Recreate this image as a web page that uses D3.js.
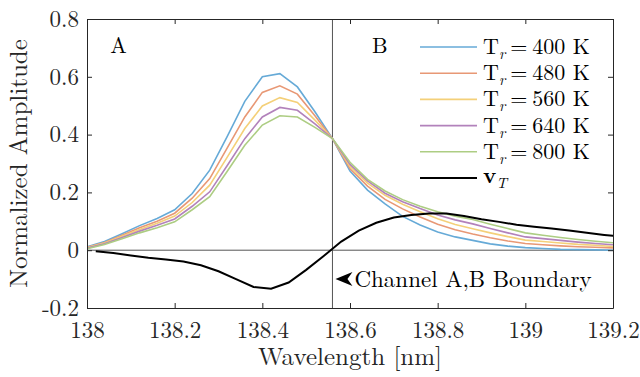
<!DOCTYPE html>
<html>
<head>
<meta charset="utf-8">
<title>Normalized Amplitude</title>
<style>
	body { margin: 0; background: #fff; }
	.axis path, .axis line { stroke: #262626; stroke-width: 1; }
</style>
</head>
<body>
<script src="https://d3js.org/d3.v7.min.js"></script>
<script>

var FONT = "'Latin Modern Roman', 'Liberation Serif', serif";

// wavelength samples of the spectra
var wl = [138.00, 138.04, 138.08, 138.12, 138.16, 138.20, 138.24, 138.28, 138.32, 138.36,
	138.40, 138.44, 138.48, 138.52, 138.56, 138.60, 138.64, 138.68, 138.72, 138.76,
	138.80, 138.84, 138.88, 138.92, 138.96, 139.00, 139.04, 139.08, 139.12, 139.16, 139.20];

var tr400 = [0.012, 0.030, 0.057, 0.085, 0.110, 0.140, 0.196, 0.277, 0.394, 0.515,
	0.600, 0.611, 0.565, 0.479, 0.386, 0.274, 0.208, 0.160, 0.117, 0.087,
	0.063, 0.046, 0.034, 0.022, 0.014, 0.009, 0.006, 0.003, 0.002, 0.001, 0.000];
var tr480 = [0.010, 0.027, 0.052, 0.078, 0.100, 0.128, 0.180, 0.248, 0.354, 0.461,
	0.546, 0.569, 0.540, 0.465, 0.386, 0.282, 0.222, 0.176, 0.143, 0.115,
	0.090, 0.071, 0.056, 0.043, 0.032, 0.023, 0.019, 0.015, 0.012, 0.010, 0.008];
var tr560 = [0.009, 0.025, 0.048, 0.072, 0.093, 0.118, 0.165, 0.225, 0.322, 0.421,
	0.499, 0.528, 0.511, 0.450, 0.386, 0.290, 0.232, 0.190, 0.159, 0.133,
	0.109, 0.089, 0.074, 0.060, 0.047, 0.035, 0.030, 0.025, 0.020, 0.017, 0.013];
var tr640 = [0.007, 0.022, 0.044, 0.066, 0.086, 0.108, 0.152, 0.202, 0.293, 0.386,
	0.461, 0.494, 0.484, 0.437, 0.386, 0.297, 0.240, 0.197, 0.168, 0.144,
	0.122, 0.105, 0.091, 0.075, 0.060, 0.046, 0.040, 0.034, 0.028, 0.023, 0.019];
var tr800 = [0.005, 0.020, 0.040, 0.060, 0.078, 0.098, 0.140, 0.185, 0.273, 0.363,
	0.433, 0.465, 0.461, 0.425, 0.386, 0.304, 0.245, 0.205, 0.175, 0.152,
	0.133, 0.118, 0.106, 0.090, 0.075, 0.060, 0.052, 0.044, 0.037, 0.031, 0.026];

// v_T is sampled half a step later
var wlV = [138.02, 138.06, 138.10, 138.14, 138.18, 138.22, 138.26, 138.30, 138.34, 138.38,
	138.42, 138.46, 138.50, 138.54, 138.58, 138.62, 138.66, 138.70, 138.74, 138.78,
	138.82, 138.86, 138.90, 138.94, 138.98, 139.02, 139.06, 139.10, 139.14, 139.18, 139.22];
var vT = [-0.004, -0.010, -0.018, -0.026, -0.032, -0.039, -0.052, -0.073, -0.100, -0.127,
	-0.133, -0.112, -0.068, -0.020, 0.030, 0.068, 0.095, 0.113, 0.122, 0.127,
	0.127, 0.118, 0.107, 0.098, 0.088, 0.081, 0.075, 0.068, 0.060, 0.053, 0.047];

var temps = ["400", "480", "560", "640", "800"];
var colors = ["#66aad7", "#e89875", "#f4d079", "#b282bb", "#adcd83"];
var seriesVals = [tr400, tr480, tr560, tr640, tr800];

var xTicks = [138, 138.2, 138.4, 138.6, 138.8, 139, 139.2];
var yTicks = [-0.2, 0, 0.2, 0.4, 0.6, 0.8];
var boundary = 138.56;

var width = 640, height = 377;
var margin = {top: 19, right: 27, bottom: 69, left: 87};
var w = width - margin.left - margin.right;
var h = height - margin.top - margin.bottom;

var svg = d3.select("body").append("svg")
	.attr("width", width)
	.attr("height", height);

var g = svg.append("g").attr("transform", "translate(" + margin.left + "," + margin.top + ")");

var x = d3.scaleLinear().domain([138, 139.2]).range([0, w]);
var y = d3.scaleLinear().domain([-0.2, 0.8]).range([h, 0]);

svg.append("defs").append("clipPath").attr("id", "clip")
	.append("rect").attr("width", w).attr("height", h);

// zero line and boundary line
g.append("line")
	.attr("x1", 0).attr("x2", w)
	.attr("y1", y(0)).attr("y2", y(0))
	.attr("stroke", "#555").attr("stroke-width", 1);
g.append("line")
	.attr("x1", x(boundary)).attr("x2", x(boundary))
	.attr("y1", 0).attr("y2", h)
	.attr("stroke", "#555").attr("stroke-width", 1);

var line = d3.line()
	.x(function(d) { return x(d[0]); })
	.y(function(d) { return y(d[1]); });

var plot = g.append("g").attr("clip-path", "url(#clip)");

seriesVals.forEach(function(vals, i) {
	plot.append("path")
		.datum(wl.map(function(v, j) { return [v, vals[j]]; }))
		.attr("fill", "none")
		.attr("stroke", colors[i])
		.attr("stroke-width", 1.6)
		.attr("d", line);
});

plot.append("path")
	.datum(wlV.map(function(v, j) { return [v, vT[j]]; }))
	.attr("fill", "none")
	.attr("stroke", "#000")
	.attr("stroke-width", 2)
	.attr("d", line);

// axes, ticks pointing inward on all four sides
g.append("g").attr("class", "axis")
	.attr("transform", "translate(0," + h + ")")
	.call(d3.axisBottom(x).tickValues(xTicks).tickSize(-5).tickSizeOuter(0).tickPadding(14)
		.tickFormat(d3.format("~g")));
g.append("g").attr("class", "axis")
	.call(d3.axisTop(x).tickValues(xTicks).tickSize(-5).tickSizeOuter(0).tickFormat(""));
g.append("g").attr("class", "axis")
	.call(d3.axisLeft(y).tickValues(yTicks).tickSize(-5).tickSizeOuter(0).tickPadding(8)
		.tickFormat(function(d) { return d3.format("~g")(d).replace("−", "-"); }));
g.append("g").attr("class", "axis")
	.attr("transform", "translate(" + w + ",0)")
	.call(d3.axisRight(y).tickValues(yTicks).tickSize(-5).tickSizeOuter(0).tickFormat(""));

g.selectAll(".axis text")
	.style("font-family", FONT)
	.style("font-size", "23px")
	.attr("fill", "#262626");

// axis labels
svg.append("text")
	.attr("x", margin.left + w / 2).attr("y", 365)
	.attr("text-anchor", "middle")
	.style("font-family", FONT).style("font-size", "25px")
	.attr("fill", "#262626")
	.text("Wavelength [nm]");
svg.append("text")
	.attr("transform", "translate(27," + (margin.top + h / 2) + ") rotate(-90)")
	.attr("text-anchor", "middle")
	.style("font-family", FONT).style("font-size", "25px")
	.attr("fill", "#262626")
	.text("Normalized Amplitude");

// channel labels
g.append("text").attr("x", x(138.053)).attr("y", 34)
	.style("font-family", FONT).style("font-size", "22px").text("A");
g.append("text").attr("x", x(138.65)).attr("y", 34)
	.style("font-family", FONT).style("font-size", "22px").text("B");

// boundary annotation
var ay = y(-0.1);
g.append("path")
	.attr("d", "M" + (x(boundary) + 3) + "," + ay + " l17,-7 l-5,7 l5,7 z")
	.attr("fill", "#000");
g.append("text")
	.attr("x", x(boundary) + 22).attr("y", ay + 8)
	.style("font-family", FONT).style("font-size", "23px")
	.text("Channel A,B Boundary");

// legend
var legend = g.append("g").attr("transform", "translate(333,28)");
var rowH = 26.2;
temps.forEach(function(t, i) {
	var row = legend.append("g").attr("transform", "translate(0," + (i * rowH) + ")");
	row.append("line").attr("x1", 0).attr("x2", 57).attr("stroke", colors[i]).attr("stroke-width", 1.6);
	var txt = row.append("text").attr("x", 63).attr("y", 7)
		.style("font-family", FONT).style("font-size", "22px");
	txt.append("tspan").text("T");
	txt.append("tspan").style("font-size", "15px").style("font-style", "italic").attr("dy", 5).text("r");
	txt.append("tspan").attr("dy", -5).attr("dx", 5).text("=");
	txt.append("tspan").attr("dx", 5).text(t + " K");
});
var vrow = legend.append("g").attr("transform", "translate(0," + (5 * rowH) + ")");
vrow.append("line").attr("x1", 0).attr("x2", 57).attr("stroke", "#000").attr("stroke-width", 2);
var vtxt = vrow.append("text").attr("x", 63).attr("y", 5)
	.style("font-family", FONT).style("font-size", "22px");
vtxt.append("tspan").style("font-weight", "bold").text("v");
vtxt.append("tspan").style("font-size", "15px").style("font-style", "italic").attr("dy", 5).text("T");

</script>
</body>
</html>
